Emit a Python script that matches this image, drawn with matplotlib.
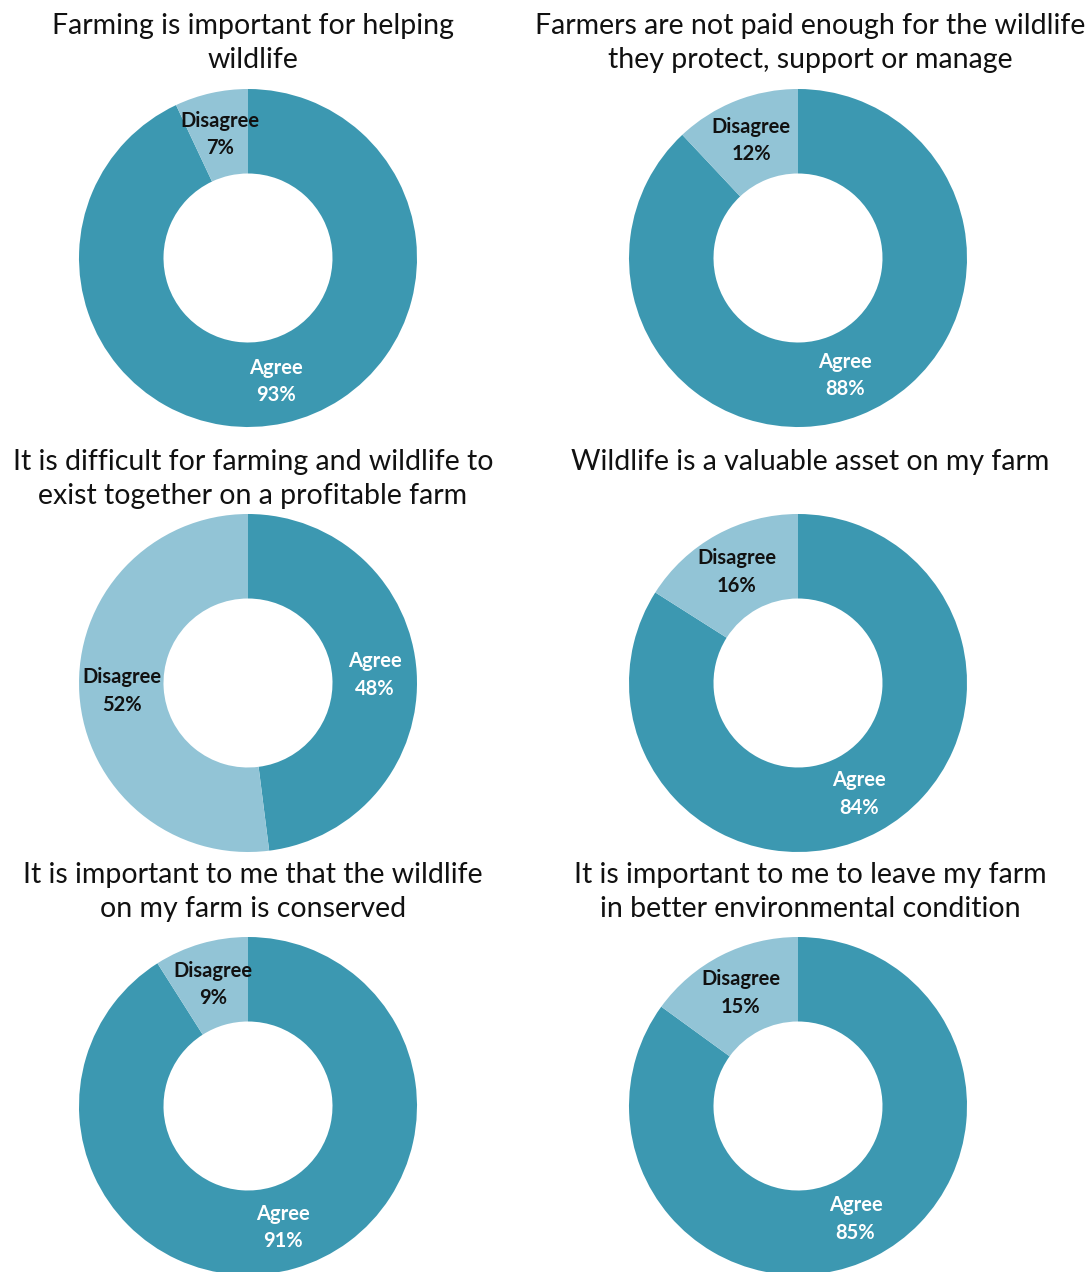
import matplotlib.pyplot as plt
import numpy as np

plt.rcParams["font.family"] = ["Lato", "DejaVu Sans"]

# survey statements, one donut each (left-to-right, top-to-bottom)
titles = [
    "Farming is important for helping\nwildlife",
    "Farmers are not paid enough for the wildlife\nthey protect, support or manage",
    "It is difficult for farming and wildlife to\nexist together on a profitable farm",
    "Wildlife is a valuable asset on my farm",
    "It is important to me that the wildlife\non my farm is conserved",
    "It is important to me to leave my farm\nin better environmental condition",
]
agree = [93, 88, 48, 84, 91, 85]
disagree = [7, 12, 52, 16, 9, 15]

categories = ["Agree", "Disagree"]
colors = ["#3c98b1", "#92c4d6"]
label_colors = ["white", "#111111"]

W, H = 1089, 1272
fig = plt.figure(figsize=(W / 100, H / 100), dpi=100)

# pixel layout of the grid
centers_x = [248, 798]
centers_y = [258, 683, 1106]
title_x = [253, 810]
title_top = [13, 449, 862]
radius = 169

for i, title in enumerate(titles):
    row, col = divmod(i, 2)
    cx, cy = centers_x[col], centers_y[row]
    ax = fig.add_axes([(cx - radius) / W, 1 - (cy + radius) / H,
                       2 * radius / W, 2 * radius / H])
    wedges, _ = ax.pie([agree[i], disagree[i]], colors=colors, startangle=90,
                       counterclock=False, radius=1.0,
                       wedgeprops=dict(width=0.5, linewidth=0))
    ax.set_xlim(-1, 1)
    ax.set_ylim(-1, 1)
    ax.set_aspect("equal")
    ax.axis("off")

    # category + percentage in the middle of each ring segment
    values = [agree[i], disagree[i]]
    for w, cat, v, tc in zip(wedges, categories, values, label_colors):
        ang = np.deg2rad((w.theta1 + w.theta2) / 2)
        ax.text(0.75 * np.cos(ang), 0.75 * np.sin(ang), f"{cat}\n{v}%",
                ha="center", va="center", color=tc, fontsize=14.5,
                fontweight="bold", linespacing=1.45)

    fig.text(title_x[col] / W, 1 - title_top[row] / H, title,
             ha="center", va="top", fontsize=20.5, color="#111111",
             linespacing=1.4)

fig.savefig("out.png", dpi=100)
